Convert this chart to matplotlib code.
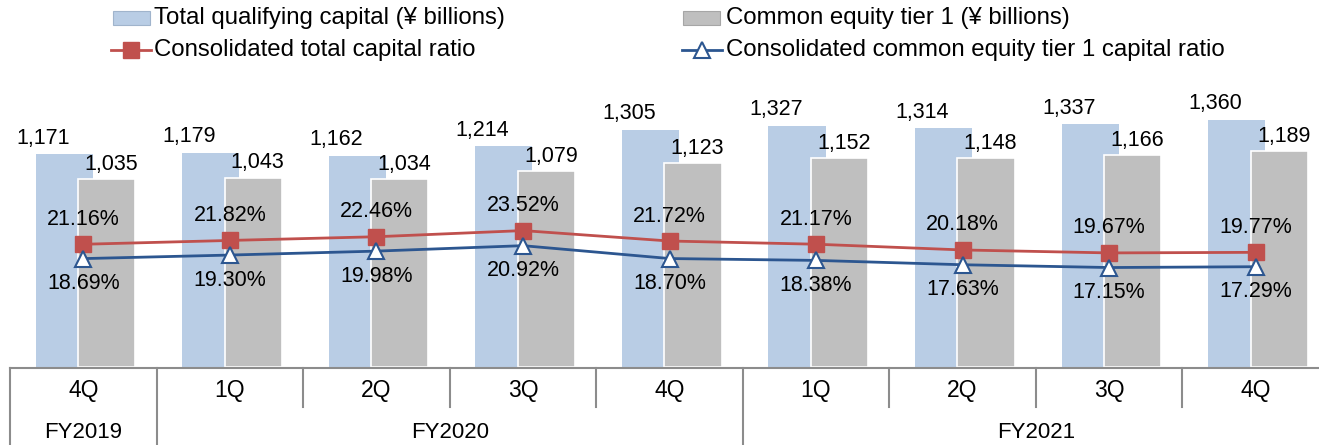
import matplotlib
matplotlib.use("Agg")
import matplotlib.pyplot as plt
from matplotlib.lines import Line2D
from matplotlib.patches import Rectangle

plt.rcParams['font.family'] = ['Liberation Sans', 'DejaVu Sans']

quarters = ['4Q', '1Q', '2Q', '3Q', '4Q', '1Q', '2Q', '3Q', '4Q']
years = [('FY2019', 0, 1), ('FY2020', 1, 5), ('FY2021', 5, 9)]
total_cap = [1171, 1179, 1162, 1214, 1305, 1327, 1314, 1337, 1360]
cet1_cap = [1035, 1043, 1034, 1079, 1123, 1152, 1148, 1166, 1189]
total_ratio = [21.16, 21.82, 22.46, 23.52, 21.72, 21.17, 20.18, 19.67, 19.77]
cet1_ratio = [18.69, 19.30, 19.98, 20.92, 18.70, 18.38, 17.63, 17.15, 17.29]

W, H = 1319, 445
BLUE_BAR = '#B9CDE5'
GRAY_BAR = '#BFBFBF'
RED = '#C0504D'
NAVY = '#2C5690'
LINE_GRAY = '#8C8C8C'

fig = plt.figure(figsize=(W / 100, H / 100), dpi=100)

# main plot area, x in category units (0..9)
base_y = 367
ax = fig.add_axes([10 / W, (H - base_y) / H, 1319 / W, 327 / H])
ax.set_xlim(0, 9)
ax.set_ylim(0, 1800)
ax.axis('off')

x = [i + 0.5 for i in range(len(quarters))]
xb = [v - 0.13 for v in x]
xg = [v + 0.16 for v in x]
ax.bar(xb, total_cap, width=0.39, color=BLUE_BAR, edgecolor='none', zorder=1)
ax.bar(xg, cet1_cap, width=0.39, color=GRAY_BAR, edgecolor='white', linewidth=1.2, zorder=2)

for i in range(len(x)):
    ax.annotate(f'{total_cap[i]:,}', (xb[i] - 0.145, total_cap[i]), xytext=(0, 4),
                textcoords='offset points', ha='center', va='bottom', fontsize=15.5, zorder=5)
    ax.annotate(f'{cet1_cap[i]:,}', (xg[i] + 0.03, cet1_cap[i]), xytext=(0, 3),
                textcoords='offset points', ha='center', va='bottom', fontsize=15.5, zorder=5)

ax2 = ax.twinx()
ax2.set_ylim(0, 327 / 5.8)
ax2.axis('off')
ax2.plot(x, total_ratio, color=RED, lw=2, marker='s', ms=11, mfc=RED, mec=RED, zorder=3)
ax2.plot(x, cet1_ratio, color=NAVY, lw=2, marker='^', ms=12, mfc='white', mec=NAVY,
         mew=1.5, zorder=4)
for i in range(len(x)):
    ax2.annotate(f'{total_ratio[i]:.2f}%', (x[i], total_ratio[i]), xytext=(0, 18),
                 textcoords='offset points', ha='center', va='center', fontsize=15.5)
    ax2.annotate(f'{cet1_ratio[i]:.2f}%', (x[i], cet1_ratio[i]), xytext=(0, -18),
                 textcoords='offset points', ha='center', va='center', fontsize=15.5)

# category table under the bars
tab = fig.add_axes([10 / W, 0, 1319 / W, (H - base_y) / H])
tab.set_xlim(0, 9)
tab.set_ylim(H - base_y, 0)
tab.axis('off')
tab.plot([0, 9], [1, 1], color=LINE_GRAY, lw=1.5, clip_on=False)
year_edges = {0, 1, 5, 9}
for k in range(10):
    bottom = H - base_y if k in year_edges else 40
    tab.plot([k, k], [1, bottom], color=LINE_GRAY, lw=1.5, clip_on=False)
for i, q in enumerate(quarters):
    tab.text(i + 0.5, 24, q, ha='center', va='center', fontsize=16.5)
for name, a, b in years:
    tab.text((a + b) / 2, 65, name, ha='center', va='center', fontsize=16)

# legend drawn by hand in figure pixels
def fx(px):
    return px / W

def fy(py):
    return (H - py) / H

fig.add_artist(Rectangle((fx(113), fy(25)), fx(37), 14 / H, facecolor=BLUE_BAR,
                         edgecolor='#A0B4CC', lw=0.8))
fig.add_artist(Rectangle((fx(683), fy(25)), fx(37), 14 / H, facecolor=GRAY_BAR,
                         edgecolor='#A6A6A6', lw=0.8))
fig.add_artist(Line2D([fx(111), fx(151)], [fy(50), fy(50)], color=RED, lw=2))
fig.add_artist(Line2D([fx(131)], [fy(50)], color=RED, lw=0, marker='s', ms=11,
                      mfc=RED, mec=RED))
fig.add_artist(Line2D([fx(682), fx(722)], [fy(50), fy(50)], color=NAVY, lw=2))
fig.add_artist(Line2D([fx(702)], [fy(50)], color=NAVY, lw=0, marker='^', ms=12,
                      mfc='white', mec=NAVY, mew=1.5))
fig.text(fx(154), fy(18), 'Total qualifying capital (¥ billions)', fontsize=17.3, va='center')
fig.text(fx(726), fy(18), 'Common equity tier 1 (¥ billions)', fontsize=17.3, va='center')
fig.text(fx(154), fy(50), 'Consolidated total capital ratio', fontsize=17.3, va='center')
fig.text(fx(726), fy(50), 'Consolidated common equity tier 1 capital ratio', fontsize=17.3,
         va='center')

fig.savefig('out.png', dpi=100)
